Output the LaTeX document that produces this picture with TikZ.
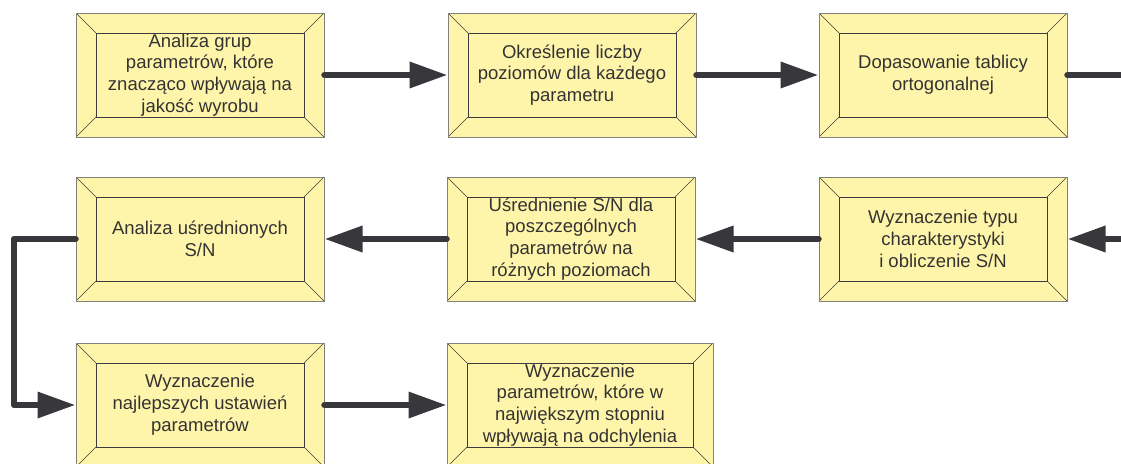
\documentclass[tikz,border=0pt]{standalone}
\usepackage{fontspec}
\setmainfont{Liberation Sans}
\usetikzlibrary{arrows.meta,calc}

\definecolor{boxfill}{RGB}{255,245,170}
\definecolor{boxedge}{RGB}{130,130,125}
\definecolor{inneredge}{RGB}{60,60,62}
\definecolor{flowgray}{RGB}{55,55,60}
\definecolor{textgray}{RGB}{51,51,51}

\tikzset{
  stage/.style={
    draw=boxedge, line width=1pt, fill=boxfill,
    minimum width=248pt, minimum height=124pt, inner sep=0pt,
    text=textgray, align=center,
    font=\fontsize{18.5}{21.8}\selectfont,
    path picture={
      \coordinate (nw) at (path picture bounding box.north west);
      \coordinate (se) at (path picture bounding box.south east);
      \coordinate (ne) at (path picture bounding box.north east);
      \coordinate (sw) at (path picture bounding box.south west);
      \draw[inneredge, line width=0.9pt]
        ([xshift=20pt,yshift=-20pt]nw) rectangle ([xshift=-20pt,yshift=20pt]se);
      \draw[inneredge, line width=0.6pt]
        (nw) -- ([xshift=20pt,yshift=-20pt]nw)
        (ne) -- ([xshift=-20pt,yshift=-20pt]ne)
        (sw) -- ([xshift=20pt,yshift=20pt]sw)
        (se) -- ([xshift=-20pt,yshift=20pt]se);
    }
  },
  flowline/.style={draw=flowgray, line width=6.5pt, line cap=round, line join=round},
  flow/.style={flowline, -{Triangle[length=38pt,width=25pt]}}
}

\begin{document}
\begin{tikzpicture}[x=1pt,y=-1pt]
  \useasboundingbox[fill=white] (0,0) rectangle (1121,463);

  % first row
  \node[stage] (b1) at (200,75) {Analiza grup\\parametrów, które\\znacząco wpływają na\\jakość wyrobu};
  \node[stage] (b2) at (572,75) {Określenie liczby\\poziomów dla każdego\\parametru};
  \node[stage] (b3) at (943,75) {Dopasowanie tablicy\\ortogonalnej};

  % second row
  \node[stage] (b6) at (943,239) {Wyznaczenie typu\\charakterystyki\\i obliczenie S/N};
  \node[stage] (b5) at (571,239) {Uśrednienie S/N dla\\poszczególnych\\parametrów na\\różnych poziomach};
  \node[stage] (b4) at (200,239) {Analiza uśrednionych\\S/N};

  % third row
  \node[stage] (b7) at (200,405) {Wyznaczenie\\najlepszych ustawień\\parametrów};
  \node[stage, minimum width=266pt] (b8) at (580,405) {Wyznaczenie\\parametrów, które w\\największym stopniu\\wpływają na odchylenia};

  % page-edge connector ends and the loop corner
  \coordinate (exitR) at (1124,75);
  \coordinate (entryR) at (1124,239);
  \coordinate (loop) at (14,239);

  % connectors
  \draw[flow] (b1.east) -- (b2.west);
  \draw[flow] (b2.east) -- (b3.west);
  \draw[flowline] (b3.east) -- (exitR);
  \draw[flow] (entryR) -- (b6.east);
  \draw[flow] (b6.west) -- (b5.east);
  \draw[flow] (b5.west) -- (b4.east);
  \draw[flow] (b4.west) -- (loop) |- (b7.west);
  \draw[flow] (b7.east) -- (b8.west);
\end{tikzpicture}
\end{document}
